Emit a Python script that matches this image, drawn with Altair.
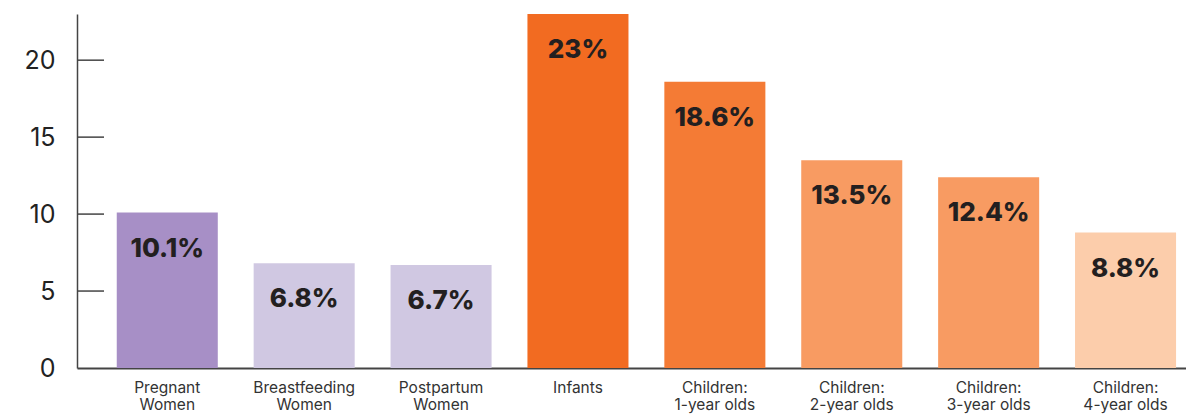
import altair as alt
import pandas as pd

categories = ["Pregnant|Women", "Breastfeeding|Women", "Postpartum|Women", "Infants",
              "Children:|1-year olds", "Children:|2-year olds", "Children:|3-year olds",
              "Children:|4-year olds"]
values = [10.1, 6.8, 6.7, 23, 18.6, 13.5, 12.4, 8.8]
value_labels = ["10.1%", "6.8%", "6.7%", "23%", "18.6%", "13.5%", "12.4%", "8.8%"]
colors = ["#A78FC6", "#D0C8E2", "#D0C8E2", "#F26B21", "#F47B35", "#F89B62", "#F89B62", "#FCCDAB"]
y_ticks = [5, 10, 15, 20]

df = pd.DataFrame({"cat": categories, "val": values, "lab": value_labels, "col": colors})
ticks_df = pd.DataFrame({"t": y_ticks})

FONT = "Inter"

x_enc = alt.X("cat:N", sort=categories,
              scale=alt.Scale(paddingInner=0.262, paddingOuter=0.1815, align=0.8),
              axis=alt.Axis(title=None, labelAngle=0, labelExpr="split(datum.label, '|')",
                            labelFont=FONT, labelFontSize=15.5, labelColor="#333333",
                            labelLineHeight=17, labelPadding=12, ticks=False,
                            domainColor="#444444", domainWidth=2))
y_scale = alt.Scale(domain=[0, 23], nice=False, zero=True)

bars = alt.Chart(df).mark_bar().encode(
    x=x_enc,
    y=alt.Y("val:Q", scale=y_scale,
            axis=alt.Axis(title=None, values=[0, 5, 10, 15, 20], ticks=False, grid=False,
                          labelFont=FONT, labelFontSize=25, labelColor="#222222",
                          labelPadding=22, domainColor="#444444", domainWidth=1.5)),
    color=alt.Color("col:N", scale=None),
)

text = alt.Chart(df).mark_text(baseline="middle", align="center", dy=36,
                               font=FONT, fontSize=26, fontWeight=800,
                               color="#231F20").encode(
    x=alt.X("cat:N", sort=categories),
    y=alt.Y("val:Q", scale=y_scale),
    text="lab:N",
)

tick_rules = alt.Chart(ticks_df).mark_rule(color="#444444", strokeWidth=1.5).encode(
    x=alt.value(0), x2=alt.value(27),
    y=alt.Y("t:Q", scale=y_scale),
)

chart = alt.layer(bars, text, tick_rules).properties(
    width=1109, height=354,
    padding={"left": 77, "top": 14, "right": 0, "bottom": 46},
    autosize=alt.AutoSizeParams(type="none"),
    view=alt.ViewBackground(strokeOpacity=0, strokeWidth=0),
).configure_view(strokeOpacity=0, strokeWidth=0).configure_axis(grid=False).configure(background="white")

chart.save("out.html", embed_options={"renderer": "svg", "actions": False})
